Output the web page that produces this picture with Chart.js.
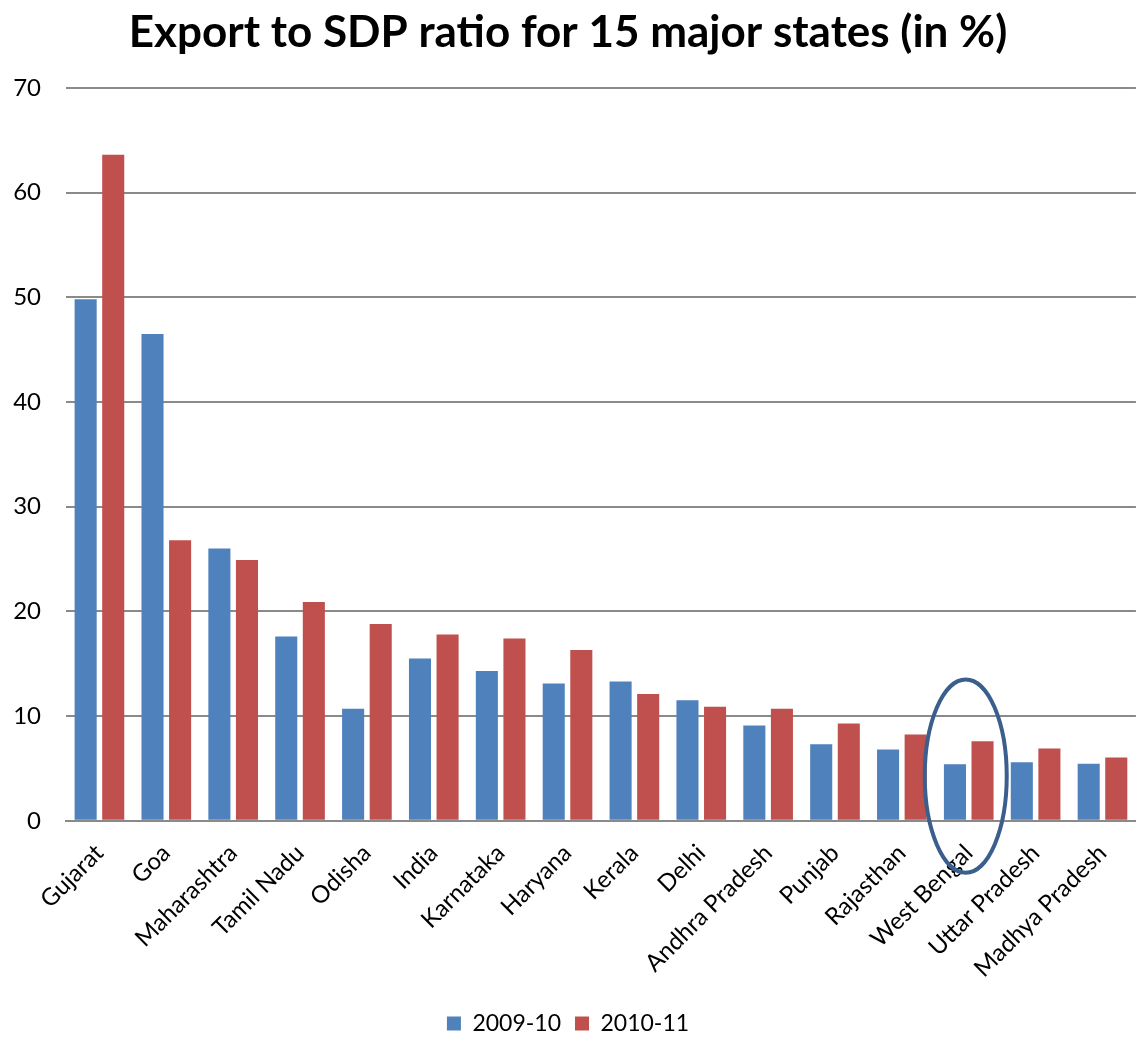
<!DOCTYPE html>
<html>
<head>
<meta charset="utf-8">
<script src="https://cdn.jsdelivr.net/npm/chart.js@4.4.0/dist/chart.umd.min.js"></script>
<style>
  html, body { margin: 0; padding: 0; background: #fff; }
  #wrap { width: 1141px; height: 1045px; }
</style>
</head>
<body>
<div id="wrap"><canvas id="chart" width="1141" height="1045"></canvas></div>
<script>
const states = ['Gujarat', 'Goa', 'Maharashtra', 'Tamil Nadu', 'Odisha', 'India', 'Karnataka',
  'Haryana', 'Kerala', 'Delhi', 'Andhra Pradesh', 'Punjab', 'Rajasthan', 'West Bengal',
  'Uttar Pradesh', 'Madhya Pradesh'];
const ratio2009 = [49.8, 46.5, 26.0, 17.6, 10.7, 15.5, 14.3, 13.1, 13.3, 11.5, 9.1, 7.3, 6.8, 5.4, 5.6, 5.45];
const ratio2010 = [63.6, 26.8, 24.9, 20.9, 18.8, 17.8, 17.4, 16.3, 12.1, 10.9, 10.7, 9.3, 8.25, 7.6, 6.9, 6.05];
const yTicks = [0, 10, 20, 30, 40, 50, 60, 70];
const circledState = 'West Bengal';

const FONT = 'Lato, "Open Sans", sans-serif';

// hand drawn ring round one category
const ringPlugin = {
  id: 'ring',
  afterDatasetsDraw(chart) {
    const x = chart.scales.x, y = chart.scales.y;
    const cx = x.getPixelForValue(states.indexOf(circledState));
    const top = y.getPixelForValue(13.5);
    const bottom = y.getPixelForValue(0) + 52;
    const ctx = chart.ctx;
    ctx.save();
    ctx.beginPath();
    ctx.ellipse(cx - 3, (top + bottom) / 2, 41, (bottom - top) / 2, 0, 0, Math.PI * 2);
    ctx.lineWidth = 4;
    ctx.strokeStyle = '#3b5f8c';
    ctx.stroke();
    ctx.restore();
  }
};

new Chart(document.getElementById('chart').getContext('2d'), {
  type: 'bar',
  data: {
    labels: states,
    datasets: [{
      label: '2009-10',
      data: ratio2009,
      backgroundColor: '#4f81bd',
      categoryPercentage: 0.825,
      barPercentage: 0.8
    }, {
      label: '2010-11',
      data: ratio2010,
      backgroundColor: '#c0504d',
      categoryPercentage: 0.825,
      barPercentage: 0.8
    }]
  },
  options: {
    responsive: false,
    animation: false,
    layout: { padding: { left: 0, right: 5, top: 4, bottom: 0 } },
    plugins: {
      title: {
        display: true,
        text: 'Export to SDP ratio for 15 major states (in %)',
        color: '#000',
        font: { family: FONT, size: 44, weight: 'bold' },
        padding: { top: 2, bottom: 29 }
      },
      legend: {
        position: 'bottom',
        labels: {
          color: '#000',
          font: { family: FONT, size: 23 },
          boxWidth: 14,
          boxHeight: 14,
          padding: 14
        }
      },
      tooltip: { enabled: false }
    },
    scales: {
      x: {
        afterFit: axis => { axis.height -= 3; },
        grid: { display: false, drawTicks: false },
        border: { color: '#8a8a8a', width: 2 },
        ticks: {
          color: '#000',
          font: { family: FONT, size: 24 },
          minRotation: 45,
          maxRotation: 45,
          autoSkip: false,
          padding: 18
        }
      },
      y: {
        min: 0,
        max: 70,
        afterBuildTicks: axis => { axis.ticks = yTicks.map(v => ({ value: v })); },
        afterFit: axis => { axis.width = 66; },
        grid: { color: '#8a8a8a', lineWidth: 2, drawTicks: false },
        border: { display: false },
        ticks: {
          color: '#000',
          font: { family: FONT, size: 24 },
          padding: 25
        }
      }
    }
  },
  plugins: [ringPlugin]
});
</script>
</body>
</html>
